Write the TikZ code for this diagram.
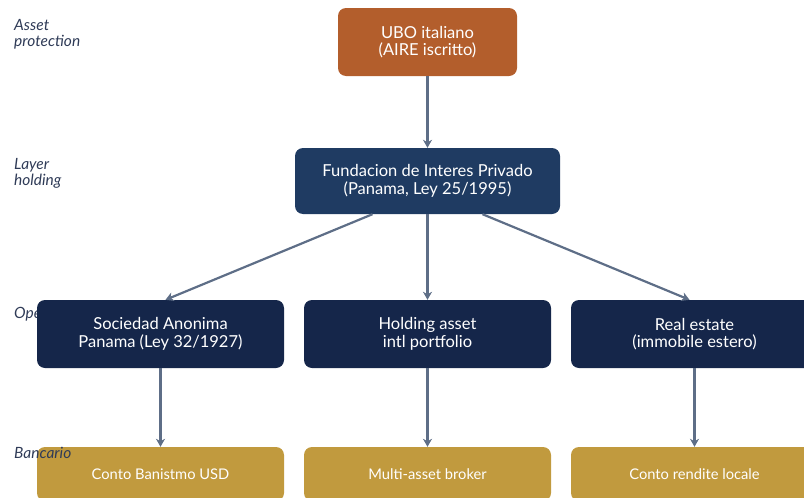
\documentclass[tikz,border=0pt]{standalone}
\usepackage{fontspec}
\setmainfont{Lato}
\usetikzlibrary{arrows.meta}

\definecolor{ubo}{HTML}{B35E2C}
\definecolor{holding}{HTML}{1F3B62}
\definecolor{opco}{HTML}{15264A}
\definecolor{bank}{HTML}{C19A3E}
\definecolor{link}{HTML}{5E6E87}
\definecolor{tier}{HTML}{2F3B57}

\tikzset{
	entity/.style={rounded corners=8pt, inner sep=0pt, align=center,
		text=white, font=\fontsize{16.5}{17.5}\selectfont},
	account/.style={entity, fill=bank, minimum width=247pt, minimum height=54pt,
		font=\fontsize{14.7}{16}\selectfont},
	company/.style={entity, fill=opco, minimum width=247pt, minimum height=68pt},
	tierlabel/.style={anchor=north west, align=left, text=tier,
		font=\fontsize{15.5}{16.5}\selectfont\itshape, inner sep=0pt},
	flow/.style={draw=link, line width=2.2pt, -{Stealth[length=8pt,width=9pt,inset=2.5pt]}}
}

\begin{document}
\begin{tikzpicture}[x=1pt,y=-1pt]
	\useasboundingbox (0,0) rectangle (804,498);

	% sits behind the operating row
	\node[tierlabel] (tOp) at (14,307) {Operativo};

	\node[entity, fill=ubo, minimum width=179pt, minimum height=68pt] (ubo) at (427.5,42)
		{UBO italiano\\(AIRE iscritto)};
	\node[entity, fill=holding, minimum width=265pt, minimum height=66pt] (fip) at (427.5,181)
		{Fundacion de Interes Privado\\(Panama, Ley 25/1995)};

	\node[company] (sa) at (160.5,334) {Sociedad Anonima\\Panama (Ley 32/1927)};
	\node[company] (intl) at (427.5,334) {Holding asset\\intl portfolio};
	\node[company] (re) at (694.5,334) {Real estate\\(immobile estero)};

	\node[account] (usd) at (160.5,474) {Conto Banistmo USD};
	\node[account] (broker) at (427.5,474) {Multi-asset broker};
	\node[account] (loc) at (694.5,474) {Conto rendite locale};

	\draw[flow] (ubo) -- (fip);
	\draw[flow] ([xshift=-55pt]fip.south) -- ([xshift=5pt]sa.north);
	\draw[flow] (fip) -- (intl);
	\draw[flow] ([xshift=55pt]fip.south) -- ([xshift=-5pt]re.north);

	\foreach \co/\acc in {sa/usd, intl/broker, re/loc}
		\draw[flow] (\co) -- (\acc);

	% tier captions on the left
	\node[tierlabel] (tAsset) at (14,19) {Asset\\protection};
	\node[tierlabel] (tLayer) at (14,158) {Layer\\holding};
	\node[tierlabel] (tBank) at (14,447) {Bancario};
\end{tikzpicture}
\end{document}
